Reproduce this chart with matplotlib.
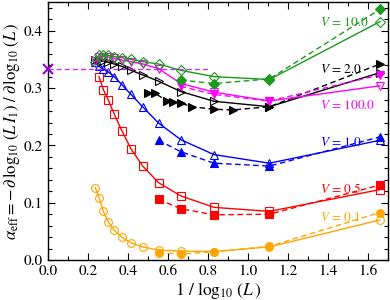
import matplotlib
matplotlib.use("Agg")
import matplotlib.pyplot as plt
from matplotlib.ticker import MultipleLocator

plt.rcParams['font.family'] = ['STIXGeneral', 'DejaVu Serif']
plt.rcParams['mathtext.fontset'] = 'stix'

# x = 1/log10(L)
x_full = [0.237, 0.255, 0.277, 0.302, 0.332, 0.369, 0.415, 0.474, 0.553, 0.664, 0.830, 1.107, 1.660]
x_small = [0.553, 0.664, 0.830, 1.107, 1.660]

# V = 0.1 (orange)
v01_open_x = x_full
v01_open = [0.126, 0.109, 0.085, 0.066, 0.052, 0.040, 0.030, 0.023, 0.0175, 0.0157, 0.015, 0.023, 0.070]
v01_fill_x = x_small
v01_fill = [0.0128, 0.0105, 0.0145, 0.024, 0.083]

# V = 0.5 (red)
v05_open_x = x_full[1:]
v05_open = [0.320, 0.297, 0.279, 0.254, 0.226, 0.194, 0.164, 0.135, 0.112, 0.092, 0.085, 0.123]
v05_fill_x = x_small
v05_fill = [0.106, 0.0896, 0.079, 0.080, 0.131]

# V = 1.0 (blue)
v1_open_x = x_full
v1_open = [0.345, 0.338, 0.333, 0.328, 0.320, 0.306, 0.289, 0.267, 0.239, 0.210, 0.184, 0.169, 0.209]
v1_fill_x = x_small
v1_fill = [0.209, 0.189, 0.169, 0.164, 0.215]

# V = 10.0 (green)
v10_open_x = x_full
v10_open = [0.346, 0.358, 0.358, 0.357, 0.355, 0.353, 0.350, 0.346, 0.342, 0.331, 0.320, 0.315, 0.416]
v10_fill_x = [0.664, 0.830, 1.107, 1.660]
v10_fill = [0.314, 0.308, 0.316, 0.4375]

# V = 2.0 (black)
v2_open_x = x_full
v2_open = [0.349, 0.349, 0.347, 0.345, 0.342, 0.338, 0.331, 0.323, 0.312, 0.294, 0.277, 0.2675, 0.327]
v2_fill_x = [0.502, 0.535, 0.593, 0.627, 0.665, 0.718, 0.830, 0.927, 1.107, 1.660]
v2_fill = [0.291, 0.291, 0.278, 0.2757, 0.2735, 0.2676, 0.263, 0.262, 0.2675, 0.342]

# V = 100.0 (magenta)
v100_open_x = x_full
v100_open = [0.347, 0.354, 0.355, 0.354, 0.352, 0.349, 0.346, 0.342, 0.334, 0.308, 0.293, 0.2775, 0.304]
v100_fill_x = [0.664, 0.830, 1.107, 1.660]
v100_fill = [0.303, 0.289, 0.2775, 0.323]

# limit value
limit_x = [0.0]
limit_y = [1.0 / 3.0]
limit_line_x = [0.0, 0.8]

labels = ['$V$ = 10.0', '$V$ = 2.0', '$V$ = 100.0', '$V$ = 1.0', '$V$ = 0.5', '$V$ = 0.1']
label_y = [0.414, 0.332, 0.269, 0.205, 0.124, 0.074]

colors = {'orange': '#ffa500', 'red': '#ff0000', 'blue': '#0000ff',
          'green': '#1a9a1a', 'black': '#000000', 'magenta': '#ff00ff'}

fig = plt.figure(figsize=(3.9, 3.0), dpi=100)
ax = fig.add_axes([0.123, 0.133, 0.872, 0.860])

series = [
    (v01_open_x, v01_open, v01_fill_x, v01_fill, 'o', colors['orange']),
    (v05_open_x, v05_open, v05_fill_x, v05_fill, 's', colors['red']),
    (v1_open_x, v1_open, v1_fill_x, v1_fill, '^', colors['blue']),
    (v2_open_x, v2_open, v2_fill_x, v2_fill, '>', colors['black']),
    (v100_open_x, v100_open, v100_fill_x, v100_fill, 'v', colors['magenta']),
    (v10_open_x, v10_open, v10_fill_x, v10_fill, 'D', colors['green']),
]

for xo, yo, xf, yf, m, c in series:
    ms = 5.6 if m != 'D' else 4.6
    ax.plot(xo, yo, '-', color=c, lw=1.0, marker=m, ms=ms, mfc='none', mec=c, mew=0.8)
    ax.plot(xf, yf, '--', color=c, lw=1.0, marker=m, ms=ms, mfc=c, mec=c, mew=0.8,
            dashes=(4, 2.5))

ax.plot(limit_line_x, [limit_y[0]] * 2, '--', color='#cc22ff', lw=0.9, dashes=(4, 2.5))
ax.plot(limit_x, limit_y, 'x', color='#9400d3', ms=7, mew=1.5, clip_on=False, zorder=5)

label_colors = [colors['green'], colors['black'], colors['magenta'], colors['blue'],
                colors['red'], colors['orange']]
for t, yv, c in zip(labels, label_y, label_colors):
    ax.text(1.36, yv, t, color=c, fontsize=9.5, ha='left', va='center')

ax.set_xlim(0, 1.7)
ax.set_ylim(0, 0.45)
ax.xaxis.set_major_locator(MultipleLocator(0.2))
ax.xaxis.set_minor_locator(MultipleLocator(0.1))
ax.yaxis.set_major_locator(MultipleLocator(0.1))
ax.yaxis.set_minor_locator(MultipleLocator(0.02))
ax.xaxis.set_major_formatter(matplotlib.ticker.FormatStrFormatter('%.1f'))
ax.yaxis.set_major_formatter(matplotlib.ticker.FormatStrFormatter('%.1f'))
ax.tick_params(which='both', direction='in', top=True, right=True, labelsize=11)
ax.tick_params(which='major', length=5, width=0.8)
ax.tick_params(which='minor', length=3, width=0.8)
for s in ax.spines.values():
    s.set_linewidth(1.0)

ax.set_xlabel(r'1 / $\log_{10}\,(L\,)$', fontsize=12.5, labelpad=1)
ax.set_ylabel(r'$\alpha_{\rm eff} = -\,\partial\,\log_{10}\,(L\,I_1)\;/\;\partial\,\log_{10}\,(L\,)$',
              fontsize=12, labelpad=1)

fig.savefig('out.png', dpi=100)
